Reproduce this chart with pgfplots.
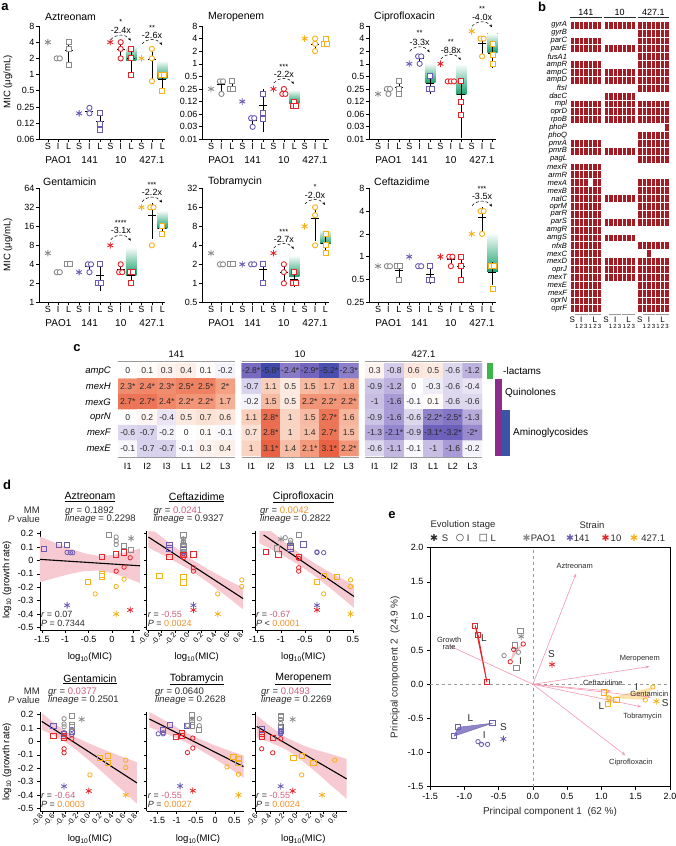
\documentclass[border=0pt]{standalone}
\usepackage{fontspec}
\setmainfont{Liberation Sans}
\newfontfamily\dejavu{DejaVu Sans}
\usepackage{pgfplots}
\usepackage{pgfplotstable}
\pgfplotsset{compat=1.18}
\usetikzlibrary{arrows.meta}
\newcommand{\fs}[1]{\fontsize{#1}{#1}\selectfont}
\definecolor{cg}{HTML}{8C8C8C}
\definecolor{cp}{HTML}{6A5CB4}
\definecolor{cr}{HTML}{E5262B}
\definecolor{co}{HTML}{F6B11B}
\definecolor{gn}{HTML}{17A06B}
\definecolor{dr}{HTML}{A51D24}
\definecolor{band}{HTML}{F7C9D1}
\definecolor{arr}{HTML}{F29AAE}
\definecolor{pk}{HTML}{D0607C}
\definecolor{po}{HTML}{F0922A}
\definecolor{lgr}{HTML}{3DB54A}
\definecolor{lpu}{HTML}{8E2C8E}
\definecolor{lbl}{HTML}{3A55A5}
\definecolor{tx}{HTML}{2B2B2B}
\definecolor{hl}{HTML}{9A9A9A}
\pgfdeclareplotmark{blk}{\pgfpathrectangle{\pgfqpoint{-15.855pt}{-3.94pt}}{\pgfqpoint{31.71pt}{7.88pt}}\pgfusepathqfill}
\pgfdeclareplotmark{cell}{\pgfpathrectangle{\pgfqpoint{-2.265pt}{-3.94pt}}{\pgfqpoint{4.53pt}{7.88pt}}\pgfusepathqfill}
\pgfplotsset{
  styMIC/.style={scale only axis, width=126.4pt,
    xmin=-0.85, xmax=11.3, axis x line*=bottom, axis y line*=left,
    xtick={0,...,11}, xticklabels={S,I,L,S,I,L,S,I,L,S,I,L},
    tick align=outside, major tick length=3pt, minor tick length=0pt,
    tick style={black,line width=0.5pt}, axis line style={black,line width=0.5pt},
    tick label style={font=\fs{9}}, xticklabel style={inner sep=1.2pt},
    yticklabel style={inner sep=1.5pt}, clip=false},
  styGR/.style={scale only axis, height=99pt, ymin=-0.52, ymax=0.22,
    axis x line*=bottom, axis y line*=left, axis line style={black,line width=0.5pt},
    tick align=outside, major tick length=3pt, minor tick length=0pt, tick style={black,line width=0.5pt},
    ytick={-0.5,-0.4,-0.3,-0.2,-0.1,0,0.1,0.2}, yticklabels={},
    tick label style={font=\fs{9}}, clip=false},
  styGRy/.style={yticklabels={-0.5,-0.4,-0.3,-0.2,-0.1,0,0.1,0.2}},
  styGRr/.style={xticklabel style={rotate=50, anchor=east, font=\fs{7.5}, inner sep=0.6pt}},
}
% panel a markers
\newcommand{\mS}[2]{\addplot[only marks, mark=asterisk, mark size=3.3pt, color=#1, mark options={line width=0.9pt}] coordinates {#2};}
\newcommand{\mI}[2]{\addplot[only marks, mark=*, mark size=2.6pt, mark options={draw=#1, fill=white, line width=0.9pt}] coordinates {#2};}
\newcommand{\mL}[2]{\addplot[only marks, mark=square*, mark size=2.5pt, mark options={draw=#1, fill=white, line width=0.9pt}] coordinates {#2};}
\newcommand{\eb}[4]{\addplot[black, line width=0.6pt] coordinates {(#1,#2) (#1,#4)};\addplot[black, only marks, mark=-, mark size=4pt, mark options={line width=0.6pt}] coordinates {(#1,#3)};}
\newcommand{\gb}[4]{\fill[top color=white, bottom color=gn] (axis cs:#1,#3) rectangle (axis cs:#2,#4);}
% panel d/e markers
\newcommand{\dS}[2]{\addplot[only marks, mark=asterisk, mark size=3.3pt, color=#1, mark options={line width=0.8pt}] coordinates {#2};}
\newcommand{\dI}[2]{\addplot[only marks, mark=o, mark size=2.2pt, color=#1, mark options={line width=0.8pt}] coordinates {#2};}
\newcommand{\dL}[2]{\addplot[only marks, mark=square, mark size=2.6pt, color=#1, mark options={line width=0.9pt}] coordinates {#2};}
\newcommand{\ann}[5]{%
  \node[font=\fs{7.5}] at (#1,#2) {#3};
  \node[font=\fs{9}] at (#1,#4) {#5};
  \draw[densely dashed, line width=0.5pt, -{Stealth[length=3pt,width=2.5pt]}] ({#1-10},{#4+9}) .. controls ({#1-5},{#4+3}) and ({#1+5},{#4+3}) .. ({#1+10},{#4+10});}
\newcommand{\rp}[3]{%
  \node[anchor=west, font=\fs{9}, text=tx, inner sep=0pt] at (rel axis cs:0.01,0.162) {\textit{r} = \textcolor{#1}{#2}};
  \node[anchor=west, font=\fs{9}, text=tx, inner sep=0pt] at (rel axis cs:0.01,0.07) {\textit{P} #3};}

% heatmap tables
\pgfplotstableread{
x y v lab
127.75 370.75 0 0
147.25 370.75 0.1 0.1
166.75 370.75 0.3 0.3
186.25 370.75 0.4 0.4
205.75 370.75 0.1 0.1
225.25 370.75 -0.2 -0.2
127.75 386.25 2.3 2.3*
147.25 386.25 2.4 2.4*
166.75 386.25 2.3 2.3*
186.25 386.25 2.5 2.5*
205.75 386.25 2.5 2.5*
225.25 386.25 2 2*
127.75 401.75 2.7 2.7*
147.25 401.75 2.7 2.7*
166.75 401.75 2.4 2.4*
186.25 401.75 2.2 2.2*
205.75 401.75 2.2 2.2*
225.25 401.75 1.7 1.7
127.75 417.25 0 0
147.25 417.25 0.2 0.2
166.75 417.25 -0.4 -0.4
186.25 417.25 0.5 0.5
205.75 417.25 0.7 0.7
225.25 417.25 0.6 0.6
127.75 432.75 -0.6 -0.6
147.25 432.75 -0.7 -0.7
166.75 432.75 -0.2 -0.2
186.25 432.75 0 0
205.75 432.75 0.1 0.1
225.25 432.75 -0.1 -0.1
127.75 448.25 -0.1 -0.1
147.25 448.25 -0.7 -0.7
166.75 448.25 -0.7 -0.7
186.25 448.25 -0.1 -0.1
205.75 448.25 0.3 0.3
225.25 448.25 0.4 0.4
}\tA
\pgfplotstableread{
x y v lab
251.25 370.75 -2.8 -2.8*
270.75 370.75 -5.8 -5.8*
290.25 370.75 -2.4 -2.4*
309.75 370.75 -2.9 -2.9*
329.25 370.75 -5.2 -5.2*
348.75 370.75 -2.3 -2.3*
251.25 386.25 -0.7 -0.7
270.75 386.25 1.1 1.1
290.25 386.25 0.5 0.5
309.75 386.25 1.5 1.5
329.25 386.25 1.7 1.7
348.75 386.25 1.8 1.8
251.25 401.75 -0.2 -0.2
270.75 401.75 1.5 1.5
290.25 401.75 0.5 0.5
309.75 401.75 2.2 2.2*
329.25 401.75 2.2 2.2*
348.75 401.75 2.2 2.2*
251.25 417.25 1.1 1.1
270.75 417.25 2.8 2.8*
290.25 417.25 1 1
309.75 417.25 1.5 1.5
329.25 417.25 2.7 2.7*
348.75 417.25 1.6 1.6
251.25 432.75 0.7 0.7
270.75 432.75 2.8 2.8*
290.25 432.75 1 1
309.75 432.75 1.4 1.4
329.25 432.75 2.7 2.7*
348.75 432.75 1.5 1.5
251.25 448.25 1 1
270.75 448.25 3.1 3.1*
290.25 448.25 1.4 1.4
309.75 448.25 2.1 2.1*
329.25 448.25 3.1 3.1*
348.75 448.25 2.2 2.2*
}\tB
\pgfplotstableread{
x y v lab
374.75 370.75 0.3 0.3
394.25 370.75 -0.8 -0.8
413.75 370.75 0.6 0.6
433.25 370.75 0.5 0.5
452.75 370.75 -0.6 -0.6
472.25 370.75 -1.2 -1.2
374.75 386.25 -0.9 -0.9
394.25 386.25 -1.2 -1.2
413.75 386.25 0 0
433.25 386.25 -0.3 -0.3
452.75 386.25 -0.6 -0.6
472.25 386.25 -0.4 -0.4
374.75 401.75 -1 -1
394.25 401.75 -1.6 -1.6
413.75 401.75 -0.1 -0.1
433.25 401.75 0.1 0.1
452.75 401.75 -0.6 -0.6
472.25 401.75 -0.6 -0.6
374.75 417.25 -0.9 -0.9
394.25 417.25 -1.6 -1.6
413.75 417.25 -0.6 -0.6
433.25 417.25 -2.2 -2.2*
452.75 417.25 -2.5 -2.5*
472.25 417.25 -1.3 -1.3
374.75 432.75 -1.3 -1.3
394.25 432.75 -2.1 -2.1*
413.75 432.75 -0.9 -0.9
433.25 432.75 -3.1 -3.1*
452.75 432.75 -3.2 -3.2*
472.25 432.75 -2 -2*
374.75 448.25 -0.6 -0.6
394.25 448.25 -1.1 -1.1
413.75 448.25 -0.1 -0.1
433.25 448.25 -1 -1
452.75 448.25 -1.6 -1.6
472.25 448.25 -0.2 -0.2
}\tC

\begin{document}
\begin{tikzpicture}
\useasboundingbox (0pt,0pt) rectangle (676pt,-846pt);

% ================= PANEL A =================
% Aztreonam
\begin{axis}[ymode=log, styMIC, at={(39pt,-139.3pt)}, anchor=south west, height=113.3pt, ymin=0.0625, ymax=8,
  ytick={0.0625,0.125,0.25,0.5,1,2,4,8}, yticklabels={0.06,0.12,0.25,0.5,1,2,4,8}]
\gb{7.5}{8.5}{1.85}{3.5}\gb{10.5}{11.5}{0.84}{1.83}
\eb{1}{2}{2}{2}\eb{2}{1.57}{2.83}{4.09}
\eb{4}{0.18}{0.207}{0.236}\eb{5}{0.086}{0.135}{0.184}
\eb{7}{2}{3}{4}\eb{8}{1}{2}{3}
\eb{10}{0.79}{1.92}{3.05}\eb{11}{0.54}{0.83}{1.12}
\mS{cg}{(0,4)}\mI{cg}{(0.85,2)(1.15,2)}\mL{cg}{(2,4)(2,3)(2,1.5)}
\mS{cp}{(3,0.19)}\mI{cp}{(4,0.24)(4,0.19)}\mL{cp}{(5,0.19)(5,0.12)(5,0.094)}
\mS{cr}{(6,4)}\mI{cr}{(7,4)(7,3)(7,2)}\mL{cr}{(8,3)(8,2)(8,1)}
\mS{co}{(9,2)}\mI{co}{(10,3)(10,2)(10,0.75)}\mL{co}{(10.85,1)(11.15,1)(11,0.5)}
\end{axis}
% Meropenem
\begin{axis}[ymode=log, styMIC, at={(202.2pt,-139.3pt)}, anchor=south west, height=113.3pt, ymin=0.015625, ymax=8,
  ytick={0.015625,0.03125,0.0625,0.125,0.25,0.5,1,2,4,8}, yticklabels={0.01,0.03,0.06,0.12,0.25,0.5,1,2,4,8}]
\gb{7.5}{8.5}{0.115}{0.24}
\eb{1}{0.207}{0.317}{0.427}\eb{2}{0.218}{0.293}{0.368}
\eb{4}{0.033}{0.044}{0.055}\eb{5}{0.023}{0.101}{0.25}
\eb{7}{0.175}{0.21}{0.245}\eb{8}{0.089}{0.106}{0.123}
\eb{10}{2}{3}{4}\eb{11}{2.75}{3.33}{3.9}
\mS{cg}{(0,0.25)}\mI{cg}{(0.85,0.38)(1.15,0.38)(1,0.19)}\mL{cg}{(2,0.38)(1.85,0.25)(2.15,0.25)}
\mS{cp}{(3,0.125)}\mI{cp}{(3.85,0.05)(4.15,0.05)(4,0.031)}\mL{cp}{(5,0.19)(5,0.066)(5,0.047)}
\mS{cr}{(6,0.25)}\mI{cr}{(7,0.25)(6.85,0.19)(7.15,0.19)}\mL{cr}{(8,0.125)(7.85,0.096)(8.15,0.096)}
\mS{co}{(9,4)}\mI{co}{(10,4)(10,3)(10,2)}\mL{co}{(11,4)(10.85,3)(11.15,3)}
\end{axis}
% Ciprofloxacin
\begin{axis}[ymode=log, styMIC, at={(369.2pt,-139.3pt)}, anchor=south west, height=113.3pt, ymin=0.015625, ymax=8,
  ytick={0.015625,0.03125,0.0625,0.125,0.25,0.5,1,2,4,8}, yticklabels={0.01,0.03,0.06,0.12,0.25,0.5,1,2,4,8}]
\gb{4.5}{5.5}{0.35}{1.05}\gb{7.5}{8.5}{0.18}{1.0}\gb{10.5}{11.5}{1.9}{5.4}
\eb{1}{0.195}{0.23}{0.265}\eb{2}{0.176}{0.273}{0.37}
\eb{4}{1.04}{1.33}{1.62}\eb{5}{0.19}{0.333}{0.48}
\eb{7}{0.38}{0.38}{0.38}\eb{8}{0.017}{0.187}{0.357}
\eb{10}{1.73}{3.17}{4.61}\eb{11}{0.79}{1.83}{2.87}
\mS{cg}{(0,0.19)}\mI{cg}{(0.85,0.25)(1.15,0.25)(1,0.19)}\mL{cg}{(2,0.38)(2,0.25)(2,0.19)}
\mS{cp}{(3,1)}\mI{cp}{(3.85,1.5)(4.15,1.5)(4,1)}\mL{cp}{(5,0.5)(4.85,0.25)(5.15,0.25)}
\mS{cr}{(6,1)}\mI{cr}{(6.7,0.38)(7,0.38)(7.3,0.38)}\mL{cr}{(8,0.38)(8,0.12)(8,0.06)}
\mS{co}{(9,6)}\mI{co}{(9.85,4)(10.15,4)(10,1.5)}\mL{co}{(11,3)(11,1.6)(11,1)}
\end{axis}
% Gentamicin
\begin{axis}[ymode=log, styMIC, at={(39pt,-302.3pt)}, anchor=south west, height=114pt, ymin=1, ymax=64,
  ytick={1,2,4,8,16,32,64}, yticklabels={1,2,4,8,16,32,64}]
\gb{7.5}{8.5}{2.7}{7.5}\gb{10.5}{11.5}{15}{28.6}
\eb{1}{3}{3}{3}\eb{2}{4}{4}{4}
\eb{4}{3.09}{3.67}{4.25}\eb{5}{1.52}{2.67}{3.82}
\eb{7}{2.75}{3.33}{3.91}\eb{8}{2.09}{2.67}{3.25}
\eb{10}{10.1}{24}{37.9}\eb{11}{12.4}{14.7}{17}
\mS{cg}{(0,6)}\mI{cg}{(0.85,3)(1.15,3)}\mL{cg}{(1.85,4)(2.15,4)}
\mS{cp}{(3,3)}\mI{cp}{(3.85,4)(4.15,4)(4,3)}\mL{cp}{(5,4)(4.85,2)(5.15,2)}
\mS{cr}{(6,8)}\mI{cr}{(7,4)(6.85,3)(7.15,3)}\mL{cr}{(7.85,3)(8.15,3)(8,2)}
\mS{co}{(9,32)}\mI{co}{(9.85,32)(10.15,32)(10,8)}\mL{co}{(11,16)(11,12)}
\end{axis}
% Tobramycin
\begin{axis}[ymode=log, styMIC, at={(202.2pt,-302.3pt)}, anchor=south west, height=114pt, ymin=0.5, ymax=32,
  ytick={0.5,1,2,4,8,16,32}, yticklabels={0.5,1,2,4,8,16,32}]
\gb{7.5}{8.5}{1.26}{2.78}\gb{10.5}{11.5}{4.2}{7.1}
\eb{1}{2}{2}{2}\eb{2}{2}{2}{2}
\eb{4}{2}{2}{2}\eb{5}{1.09}{1.67}{2.25}
\eb{7}{1}{1.5}{2}\eb{8}{0.88}{1.17}{1.46}
\eb{10}{4.6}{10.67}{16.8}\eb{11}{2.8}{4.33}{5.86}
\mS{cg}{(0,3)}\mI{cg}{(0.85,2)(1.15,2)}\mL{cg}{(1.85,2)(2.15,2)}
\mS{cp}{(3,2)}\mI{cp}{(3.85,2)(4.15,2)}\mL{cp}{(5,2)(5,1)}
\mS{cr}{(6,3)}\mI{cr}{(7,2)(7,1.5)(7,1)}\mL{cr}{(8,1.5)(7.85,1)(8.15,1)}
\mS{co}{(9,8)}\mI{co}{(10,16)(10,12)(10,4)}\mL{co}{(11,6)(11,4)(11,3)}
\end{axis}
% Ceftazidime
\begin{axis}[ymode=log, styMIC, at={(369.2pt,-302.3pt)}, anchor=south west, height=114pt, ymin=0.25, ymax=8,
  ytick={0.25,0.5,1,2,4,8}, yticklabels={0.25,0.5,1,2,4,8}]
\gb{10.5}{11.5}{0.63}{2.08}
\eb{1}{0.75}{0.75}{0.75}\eb{2}{0.52}{0.667}{0.81}
\eb{4}{0.75}{0.75}{0.75}\eb{5}{0.44}{0.583}{0.73}
\eb{7}{0.77}{0.917}{1.06}\eb{8}{0.5}{0.75}{1}
\eb{10}{2.18}{3.33}{4.48}\eb{11}{0.42}{0.627}{0.84}
\mS{cg}{(0,0.75)}\mI{cg}{(0.85,0.75)(1.15,0.75)}\mL{cg}{(1.85,0.75)(2.15,0.75)(2,0.5)}
\mS{cp}{(3,1)}\mI{cp}{(3.85,0.75)(4.15,0.75)}\mL{cp}{(5,0.75)(4.85,0.5)(5.15,0.5)}
\mS{cr}{(6,1)}\mI{cr}{(6.85,1)(7.15,1)(7,0.75)}\mL{cr}{(8,1)(8,0.75)(8,0.5)}
\mS{co}{(9,2)}\mI{co}{(9.85,4)(10.15,4)(10,2)}\mL{co}{(10.85,0.75)(11.15,0.75)(11,0.38)}
\end{axis}

% ================= PANEL B =================
\begin{axis}[scale only axis, width=103pt, height=291.56pt, at={(568pt,-21.06pt)}, anchor=north west,
  xmin=0, xmax=103, ymin=-0.5, ymax=36.5, y dir=reverse,
  axis line style={draw=none}, major tick length=0pt, minor tick length=0pt,
  xtick=\empty, ytick={0,...,36},
  yticklabels={gyrA,gyrB,parC,parE,fusA1,ampR,ampC,ampD,ftsI,dacC,mpl,oprD,rpoB,phoP,phoQ,pmrA,pmrB,pagL,mexR,armR,mexA,mexB,nalC,oprM,parR,parS,amgR,amgS,nfxB,mexC,mexD,oprJ,mexT,mexE,mexF,oprN,oprF},
  yticklabel style={font=\fs{7.6}\itshape, inner sep=0.8pt}, clip=false]
\addplot[only marks, mark=blk, color=dr] coordinates {(17.855,0)(17.855,2)(17.855,3)(17.855,5)(17.855,6)(17.855,7)(17.855,10)(17.855,11)(17.855,12)(17.855,15)(17.855,16)(17.855,18)(17.855,19)(17.855,20)(17.855,21)(17.855,22)(17.855,23)(17.855,24)(17.855,25)(17.855,26)(17.855,27)(17.855,28)(17.855,29)(17.855,30)(17.855,31)(17.855,32)(17.855,33)(17.855,34)(17.855,35)(17.855,36)};
\addplot[only marks, mark=blk, color=dr] coordinates {(51.655,0)(51.655,3)(51.655,6)(51.655,7)(51.655,9)(51.655,10)(51.655,11)(51.655,12)(51.655,16)(51.655,22)(51.655,25)(51.655,27)(51.655,30)(51.655,31)(51.655,32)};
\addplot[only marks, mark=blk, color=dr] coordinates {(85.455,0)(85.455,1)(85.455,2)(85.455,3)(85.455,4)(85.455,5)(85.455,6)(85.455,7)(85.455,8)(85.455,10)(85.455,11)(85.455,12)(85.455,14)(85.455,15)(85.455,16)(85.455,17)(85.455,20)(85.455,21)(85.455,22)(85.455,23)(85.455,24)(85.455,25)(85.455,28)(85.455,30)(85.455,31)(85.455,32)(85.455,33)(85.455,34)(85.455,35)(85.455,36)};
\addplot[only marks, mark=cell, color=dr] coordinates {(99.05,13)(80.93,29)};
\addplot[only marks, mark=cell, color=white] coordinates {(22.385,20)};
\end{axis}

% ================= PANEL C =================
\begin{axis}[scale only axis, hide axis, width=364pt, height=93pt, at={(118pt,-363pt)}, anchor=north west,
  xmin=118, xmax=482, ymin=363, ymax=456, y dir=reverse,
  colormap={hm}{rgb255(0cm)=(60,72,170); rgb255(3cm)=(112,98,188); rgb255(4.5cm)=(172,158,214); rgb255(6cm)=(255,255,255); rgb255(7cm)=(250,212,194); rgb255(8cm)=(244,160,130); rgb255(9cm)=(233,98,68)},
  point meta min=-6, point meta max=3]
\addplot[matrix plot*, mesh/cols=6, point meta=explicit] table[x=x,y=y,meta=v] {\tA};
\addplot[matrix plot*, mesh/cols=6, point meta=explicit] table[x=x,y=y,meta=v] {\tB};
\addplot[matrix plot*, mesh/cols=6, point meta=explicit] table[x=x,y=y,meta=v] {\tC};
\addplot[draw=none, nodes near coords, point meta=explicit symbolic, every node near coord/.style={anchor=center, font=\fs{8.6}, text=tx, inner sep=0pt}] table[x=x,y=y,meta=lab] {\tA};
\addplot[draw=none, nodes near coords, point meta=explicit symbolic, every node near coord/.style={anchor=center, font=\fs{8.6}, text=tx, inner sep=0pt}] table[x=x,y=y,meta=lab] {\tB};
\addplot[draw=none, nodes near coords, point meta=explicit symbolic, every node near coord/.style={anchor=center, font=\fs{8.6}, text=tx, inner sep=0pt}] table[x=x,y=y,meta=lab] {\tC};
\end{axis}

% ================= PANEL D =================
% Aztreonam
\begin{axis}[styGR, styGRy, at={(40pt,-630pt)}, anchor=south west, width=100pt, xmin=-1.54, xmax=0.6,
  xtick={-1.5,-1,-0.5,0,0.45}, xticklabels={-1.5,-1,-0.5,0,1}]
\addplot[fill=band, draw=none] coordinates {(-1.54,0.178)(-1.2,0.129)(-0.9,0.089)(-0.6,0.054)(-0.3,0.035)(0,0.040)(0.3,0.062)(0.6,0.089)(0.6,-0.169)(0.3,-0.128)(0,-0.094)(-0.3,-0.075)(-0.6,-0.080)(-0.9,-0.101)(-1.2,-0.129)(-1.54,-0.162)} --cycle;
\addplot[black, line width=1.1pt] coordinates {(-1.54,0.008)(0.6,-0.04)};
\dL{cp}{(-1.46,0.088)(-1.14,0.115)(-0.96,0.115)}\dI{cp}{(-0.96,0.06)(-0.89,0.058)(-0.84,0.058)}\dS{cp}{(-0.96,-0.335)}
\dL{cg}{(-0.07,0.19)(0.25,0.11)(0.41,0.08)}\dI{cg}{(0.09,0.175)(0.09,0.145)(0.09,0.12)}\dS{cg}{(0.41,0.165)}
\dL{cr}{(-0.22,0.025)(0.09,0.045)(0.26,0.06)}\dI{cr}{(0.39,0.02)(0.26,-0.05)(0.09,-0.08)}\dS{cr}{(0.39,-0.37)}
\dL{co}{(-0.52,-0.16)(-0.22,-0.12)(-0.22,-0.105)}\dI{co}{(-0.36,-0.25)(0.09,-0.195)(0.26,-0.14)}\dS{co}{(0.09,-0.40)}
\rp{tx}{0.07}{= 0.7344}
\end{axis}
% Ceftazidime
\begin{axis}[styGR, styGRr, at={(146.7pt,-630pt)}, anchor=south west, width=96.4pt, xmin=-0.625, xmax=0.82,
  xtick={-0.6,-0.4,-0.2,0,0.2,0.4,0.6,0.8}, xticklabels={-0.6,-0.4,-0.2,0.0,0.2,0.4,0.6,0.8}]
\addplot[fill=band, draw=none] coordinates {(-0.6,0.22)(-0.5,0.215)(-0.3,0.136)(0,0.027)(0.1,-0.007)(0.3,-0.068)(0.6,-0.150)(0.82,-0.204)(0.82,-0.366)(0.6,-0.278)(0.3,-0.166)(0.1,-0.097)(0,-0.064)(-0.3,0.020)(-0.6,0.096)} --cycle;
\addplot[black, line width=1.1pt] coordinates {(-0.6,0.175)(0.82,-0.285)};
\dL{cp}{(-0.285,0.115)(-0.285,0.09)(-0.075,0.075)}\dI{cp}{(-0.075,0.065)(-0.075,0.05)(-0.075,0.055)}\dS{cp}{(0.075,-0.335)}
\dL{cg}{(-0.075,0.19)(-0.075,0.105)(-0.075,0.085)}\dI{cg}{(-0.075,0.16)(-0.075,0.135)(-0.075,0.12)}\dS{cg}{(-0.075,0.155)}
\dL{cr}{(-0.285,0.025)(0.075,0.045)(-0.075,0.04)}\dI{cr}{(-0.075,0.02)(0.075,-0.055)(0.075,-0.08)}\dS{cr}{(0.075,-0.37)}
\dL{co}{(-0.435,-0.115)(-0.075,-0.125)(-0.075,-0.165)}\dI{co}{(0.44,-0.25)(0.8,-0.145)(0.8,-0.195)}\dS{co}{(0.44,-0.40)}
\rp{pk}{-0.55}{= \textcolor{po}{0.0024}}
\end{axis}
% Ciprofloxacin
\begin{axis}[styGR, at={(255pt,-630pt)}, anchor=south west, width=99.4pt, xmin=-1.54, xmax=0.53,
  xtick={-1.5,-1,-0.5,0,0.5}, xticklabels={-1.5,-1,-0.5,0,0.5}]
\addplot[fill=band, draw=none] coordinates {(-1.45,0.22)(-1.2,0.218)(-0.9,0.131)(-0.6,0.05)(-0.3,-0.021)(0,-0.085)(0.3,-0.142)(0.52,-0.183)(0.52,-0.355)(0.3,-0.288)(0,-0.199)(-0.3,-0.115)(-0.6,-0.040)(-0.9,0.025)(-1.2,0.084)(-1.45,0.130)} --cycle;
\addplot[black, line width=1.1pt] coordinates {(-1.36,0.19)(0.52,-0.269)};
\dL{cr}{(-1.31,0.063)(-1.05,0.045)(-0.63,0.025)}\dI{cr}{(-0.63,-0.055)(-0.63,-0.08)(-0.63,0.015)}\dS{cr}{(-0.25,-0.37)}
\dL{cg}{(-0.63,0.19)(-1.08,0.09)(-0.8,0.10)}\dI{cg}{(-0.91,0.17)(-0.80,0.15)(-0.80,0.13)}\dS{cg}{(-1.0,0.16)}
\dL{cp}{(-0.8,0.105)(-0.53,0.12)(-0.8,0.09)}\dI{cp}{(-0.25,0.063)(-0.11,0.058)(-0.25,0.06)}\dS{cp}{(-0.25,-0.335)}
\dL{co}{(-0.25,-0.16)(-0.11,-0.115)(0.17,-0.125)}\dI{co}{(-0.11,-0.25)(0.45,-0.145)(0.45,-0.195)}\dS{co}{(0.45,-0.40)}
\rp{pk}{-0.67}{< \textcolor{po}{0.0001}}
\end{axis}
% Gentamicin
\begin{axis}[styGR, styGRy, styGRr, at={(40pt,-811pt)}, anchor=south west, width=98.7pt, xmin=-0.83, xmax=0.85,
  xtick={-0.8,-0.6,-0.4,-0.2,0,0.2,0.4,0.6,0.8}, xticklabels={-0.8,-0.6,-0.4,-0.2,0.0,0.2,0.4,0.6,0.8}]
\addplot[fill=band, draw=none] coordinates {(-0.8,0.213)(-0.6,0.140)(-0.4,0.076)(-0.2,0.027)(0,-0.014)(0.2,-0.051)(0.4,-0.086)(0.6,-0.120)(0.82,-0.155)(0.82,-0.465)(0.6,-0.376)(0.4,-0.296)(0.2,-0.217)(0,-0.140)(-0.2,-0.067)(-0.4,-0.004)(-0.6,0.046)(-0.8,0.087)} --cycle;
\addplot[black, line width=1.1pt] coordinates {(-0.8,0.15)(0.82,-0.31)};
\dL{cp}{(-0.60,0.115)(-0.42,0.057)(-0.29,0.07)}\dI{cp}{(-0.42,0.065)(-0.29,0.09)(-0.29,0.05)}\dS{cp}{(-0.42,-0.335)}
\dL{cg}{(-0.29,0.19)(-0.29,0.11)(-0.29,0.12)}\dI{cg}{(-0.42,0.17)(-0.42,0.13)(-0.42,0.11)}\dS{cg}{(-0.12,0.165)}
\dL{cr}{(-0.60,0.042)(-0.42,0.025)(-0.42,0.04)}\dI{cr}{(-0.29,0.02)(-0.42,-0.055)(-0.42,-0.085)}\dS{cr}{(0.0,-0.37)}
\dL{co}{(0.19,-0.125)(0.32,-0.11)(0.32,-0.16)}\dI{co}{(0.02,-0.25)(0.63,-0.14)(0.63,-0.195)}\dS{co}{(0.63,-0.40)}
\rp{pk}{-0.64}{= \textcolor{po}{0.0003}}
\end{axis}
% Tobramycin
\begin{axis}[styGR, at={(146.7pt,-811pt)}, anchor=south west, width=97.2pt, xmin=-1.78, xmax=0.75,
  xtick={-1.5,-1,-0.5,0,0.5}, xticklabels={-1.5,-1,-0.5,0,0.5}]
\addplot[fill=band, draw=none] coordinates {(-1.71,0.22)(-1.3,0.155)(-0.9,0.088)(-0.5,0.030)(-0.1,-0.019)(0.3,-0.062)(0.74,-0.105)(0.74,-0.271)(0.3,-0.186)(-0.1,-0.113)(-0.5,-0.046)(-0.9,0.012)(-1.3,0.061)(-1.71,0.105)} --cycle;
\addplot[black, line width=1.1pt] coordinates {(-1.71,0.168)(0.74,-0.188)};
\dL{cp}{(-1.35,0.087)(-1.17,0.125)(-0.72,0.117)}\dI{cp}{(-1.48,0.057)(-1.35,0.057)(-1.35,0.065)}\dS{cp}{(-0.91,-0.333)}
\dL{cg}{(-0.61,0.2)(-0.61,0.15)(-0.41,0.087)(-0.6,0.12)}\dI{cg}{(-0.41,0.17)(-0.41,0.117)(-0.72,0.12)}\dS{cg}{(-0.6,0.165)}
\dL{cr}{(-1.02,0.033)(-0.87,0.063)(-0.87,0.04)}\dI{cr}{(-0.58,0.025)(-0.58,-0.05)(-0.72,-0.083)}\dS{cr}{(-0.58,-0.368)}
\dL{co}{(0.48,-0.113)(0.61,-0.13)(0.61,-0.16)}\dI{co}{(0.31,-0.19)(0.61,-0.245)}\dS{co}{(0.61,-0.40)}
\rp{pk}{-0.55}{= \textcolor{po}{0.0027}}
\end{axis}
% Meropenem
\begin{axis}[styGR, styGRr, at={(255pt,-811pt)}, anchor=south west, width=91.7pt, xmin=-0.625, xmax=0.75,
  xtick={-0.6,-0.4,-0.2,0,0.2,0.4,0.6}, xticklabels={-0.6,-0.4,-0.2,0.0,0.2,0.4,0.6}]
\addplot[fill=band, draw=none] coordinates {(-0.6,0.196)(-0.4,0.114)(-0.15,0.027)(0.1,-0.031)(0.3,-0.065)(0.5,-0.092)(0.75,-0.131)(0.75,-0.429)(0.5,-0.322)(0.3,-0.233)(0.1,-0.151)(-0.15,-0.063)(-0.4,-0.006)(-0.6,0.028)} --cycle;
\addplot[black, line width=1.1pt] coordinates {(-0.6,0.112)(0.75,-0.28)};
\dL{cp}{(-0.525,0.09)(-0.24,0.11)(-0.24,0.08)}\dI{cp}{(-0.24,0.055)(-0.24,0.06)(-0.24,0.07)}\dS{cp}{(-0.24,-0.335)}
\dL{cg}{(-0.24,0.19)(-0.24,0.18)}\dI{cg}{(-0.24,0.165)(-0.24,0.135)(-0.24,0.11)}\dS{cg}{(-0.06,0.165)}
\dL{cr}{(-0.525,0.055)(-0.525,0.035)(-0.36,0.025)}\dI{cr}{(-0.525,-0.055)(-0.36,-0.085)(-0.24,0.02)}\dS{cr}{(-0.06,-0.37)}
\dL{co}{(-0.05,-0.125)(0.075,-0.11)(0.25,-0.16)}\dI{co}{(0.075,-0.25)(0.57,-0.14)}\dS{co}{(0.38,-0.40)}
\rp{pk}{-0.55}{= \textcolor{po}{0.0024}}
\end{axis}

% ================= PANEL E =================
\begin{axis}[scale only axis, at={(430pt,-786.7pt)}, anchor=south west, width=240pt, height=239pt,
  xmin=-1.5, xmax=2, ymin=-1.5, ymax=2,
  xtick={-1.5,-1,-0.5,0,0.5,1,1.5,2}, ytick={-1.5,-1,-0.5,0,0.5,1,1.5,2},
  xticklabels={-1.5,-1.0,-0.5,0.0,0.5,1.0,1.5,2.0}, yticklabels={-1.5,-1.0,-0.5,0.0,0.5,1.0,1.5,2.0},
  tick align=outside, major tick length=3pt, xtick pos=left, ytick pos=left,
  tick label style={font=\fs{9}}, axis line style={line width=0.5pt}, tick style={black,line width=0.5pt}, clip=false]
\addplot[hl, dashed, line width=0.5pt] coordinates {(0,-1.5)(0,2)};
\addplot[hl, dashed, line width=0.5pt] coordinates {(-1.5,0)(2,0)};
\addplot[fill=cr, fill opacity=0.55, draw=cr, line width=1pt] coordinates {(-0.84,0.86)(-0.80,0.72)(-0.67,0.03)} --cycle;
\addplot[fill=cr!45, fill opacity=0.6, draw=none] coordinates {(-0.28,0.51)(-0.14,0.59)(-0.33,0.33)} --cycle;
\addplot[fill=cp, fill opacity=0.75, draw=cp] coordinates {(-1.09,-0.63)(-1.15,-0.76)(-0.59,-0.57)} --cycle;
\addplot[fill=cp!50, fill opacity=0.6, draw=none] coordinates {(-0.80,-0.84)(-0.75,-0.88)(-0.66,-0.88)} --cycle;
\addplot[fill=co!60, fill opacity=0.6, draw=none] coordinates {(1.04,-0.12)(1.22,-0.23)(1.09,-0.29)} --cycle;
\addplot[fill=co!60, fill opacity=0.6, draw=none] coordinates {(1.75,-0.04)(1.64,-0.23)(1.11,-0.20)} --cycle;
\addplot[arr, line width=0.6pt, -{Stealth[length=4pt,width=3pt]}] coordinates {(0,0)(0.63,1.62)};
\addplot[arr, line width=0.6pt, -{Stealth[length=4pt,width=3pt]}] coordinates {(0,0)(1.70,0.26)};
\addplot[arr, line width=0.6pt, -{Stealth[length=4pt,width=3pt]}] coordinates {(0,0)(1.14,-0.10)};
\addplot[arr, line width=0.6pt, -{Stealth[length=4pt,width=3pt]}] coordinates {(0,0)(1.72,-0.19)};
\addplot[arr, line width=0.6pt, -{Stealth[length=4pt,width=3pt]}] coordinates {(0,0)(1.58,-0.33)};
\addplot[arr, line width=0.6pt, -{Stealth[length=4pt,width=3pt]}] coordinates {(0,0)(1.35,-1.04)};
\addplot[arr, line width=0.6pt, -{Stealth[length=4pt,width=3pt]}] coordinates {(0,0)(-1.21,0.56)};
\dL{cg}{(-0.18,0.78)(-0.26,0.57)(-0.24,0.24)}\dI{cg}{(-0.42,0.42)(-0.21,0.47)}\dS{cg}{(-0.17,0.70)}
\dL{cr}{(-0.84,0.86)(-0.80,0.72)(-0.67,0.03)}\dI{cr}{(-0.28,0.51)(-0.14,0.59)(-0.33,0.33)}\dS{cr}{(0.28,0.29)}
\dL{cp}{(-1.09,-0.63)(-1.15,-0.76)(-0.59,-0.57)}\dI{cp}{(-0.80,-0.84)(-0.75,-0.88)(-0.66,-0.88)}\dS{cp}{(-0.43,-0.80)}
\dL{co}{(1.04,-0.12)(1.22,-0.23)(1.09,-0.29)}\dI{co}{(1.75,-0.04)(1.64,-0.23)(1.11,-0.20)}\dS{co}{(1.80,-0.25)}
\begin{scope}[every node/.style={font=\fs{7.5}, text=tx, inner sep=0.5pt}]
\node at (axis cs:0.61,1.73) {Aztreonam};
\node at (axis cs:1.56,0.38) {Meropenem};
\node at (axis cs:1.02,0.02) {Ceftazidime};
\node at (axis cs:1.70,-0.14) {Gentamicin};
\node at (axis cs:1.60,-0.47) {Tobramycin};
\node at (axis cs:1.43,-1.14) {Ciprofloxacin};
\node[align=center] at (axis cs:-1.22,0.60) {Growth\\rate};
\end{scope}
\begin{scope}[every node/.style={font=\fs{10}, text=tx, inner sep=0pt}]
\node at (axis cs:-0.715,0.68) {L};
\node at (axis cs:-0.18,0.34) {I};
\node at (axis cs:0.27,0.44) {S};
\node at (axis cs:-0.91,-0.49) {L};
\node at (axis cs:-0.71,-0.75) {I};
\node at (axis cs:-0.43,-0.63) {S};
\node at (axis cs:1.51,-0.04) {I};
\node at (axis cs:1.00,-0.32) {L};
\node at (axis cs:1.93,-0.28) {S};
\end{scope}
\end{axis}

% ================= ABSOLUTE TEXT =================
\begin{scope}[x=1pt, y=-1pt]
% panel b white cell grid
\foreach \g in {570,603.8,637.6}{
 \foreach \k in {0,...,7}{\draw[white, line width=0.6pt] ({\g+4.53*\k},21.06) -- ({\g+4.53*\k},312.62);}
 \foreach \j in {0,...,37}{\draw[white, line width=0.6pt] (\g,{21.06+7.88*\j}) -- ({\g+31.71},{21.06+7.88*\j});}
}
\node[font=\fs{13}\bfseries] at (5,7) {a};
\node[font=\fs{13}\bfseries] at (542,7) {b};
\node[font=\fs{13}\bfseries] at (77,348) {c};
\node[font=\fs{13}\bfseries] at (7,485) {d};
\node[font=\fs{13}\bfseries] at (392,515) {e};
\begin{scope}[every node/.style={font=\fs{10.5}, anchor=west, inner sep=0pt}]
\node at (45,17) {Aztreonam};
\node at (208,17) {Meropenem};
\node at (374,17) {Ciprofloxacin};
\node at (43,181.7) {Gentamicin};
\node at (208,181.7) {Tobramycin};
\node at (374,181.7) {Ceftazidime};
\end{scope}
\node[rotate=90, font=\fs{9.5}] at (8,82) {MIC (μg/mL)};
\node[rotate=90, font=\fs{9.5}] at (8,245) {MIC (μg/mL)};
\begin{scope}[every node/.style={font=\fs{10}, inner sep=0pt}]
\foreach \dx/\yy in {0/160,163/160,330/160,0/323,163/323,330/323}{
 \node at ({58.4+\dx},\yy) {PAO1};
 \node at ({89.6+\dx},\yy) {141};
 \node at ({120.8+\dx},\yy) {10};
 \node at ({152+\dx},\yy) {427.1};
}
\end{scope}
\ann{120.8}{22}{*}{30.7}{-2.4x}
\ann{152}{28.3}{**}{35}{-2.6x}
\ann{283.8}{66.7}{***}{74}{-2.2x}
\ann{419.6}{33.3}{**}{42.3}{-3.3x}
\ann{450.8}{41.7}{**}{50}{-8.8x}
\ann{482}{9.3}{**}{17.3}{-4.0x}
\ann{120.8}{223.3}{****}{230.7}{-3.1x}
\ann{152}{185}{***}{192.7}{-2.2x}
\ann{283.8}{231.7}{***}{239}{-2.7x}
\ann{315}{186.7}{*}{195}{-2.0x}
\ann{482}{189.3}{***}{196.7}{-3.5x}
\begin{scope}[every node/.style={font=\fs{9}, inner sep=0pt}]
\node at (585.86,12) {141};
\node at (619.66,12) {10};
\node at (653.46,12) {427.1};
\end{scope}
\foreach \g in {570,603.8,637.6}{
 \draw[tx, line width=0.6pt] (\g,17.5) -- ({\g+31.71},17.5);
 \draw[hl, line width=0.6pt] ({\g+5},314.5) -- ({\g+17.6},314.5);
 \draw[hl, line width=0.6pt] ({\g+18.6},314.5) -- ({\g+31.2},314.5);
 \node[font=\fs{8}, inner sep=0pt] at ({\g+2.265},319.5) {S};
 \node[font=\fs{8}, inner sep=0pt] at ({\g+11.325},319.5) {I};
 \node[font=\fs{8}, inner sep=0pt] at ({\g+24.915},319.5) {L};
 \node[font=\fs{6}, inner sep=0pt] at ({\g+6.795},326.5) {1};
 \node[font=\fs{6}, inner sep=0pt] at ({\g+11.325},326.5) {2};
 \node[font=\fs{6}, inner sep=0pt] at ({\g+15.855},326.5) {3};
 \node[font=\fs{6}, inner sep=0pt] at ({\g+20.385},326.5) {1};
 \node[font=\fs{6}, inner sep=0pt] at ({\g+24.915},326.5) {2};
 \node[font=\fs{6}, inner sep=0pt] at ({\g+29.445},326.5) {3};
}
\begin{scope}[every node/.style={font=\fs{9.5}, inner sep=0pt}]
\node at (176.5,354) {141};
\node at (300,354) {10};
\node at (423.5,354) {427.1};
\end{scope}
\foreach \a/\b in {118/235,241.5/358.5,365/482}{
 \draw[hl, line width=1pt] (\a,361) -- (\b,361);
 \draw[hl, line width=0.8pt] (\a,457.5) -- (\b,457.5);
}
\begin{scope}[every node/.style={font=\fs{9.5}\itshape, anchor=east, inner sep=0pt}]
\node at (111,370.75) {ampC};
\node at (111,386.25) {mexH};
\node at (111,401.75) {mexG};
\node at (111,417.25) {oprN};
\node at (111,432.75) {mexF};
\node at (111,448.25) {mexE};
\end{scope}
\foreach \s in {118,241.5,365}{
 \foreach \k/\lab in {0/I1,1/I2,2/I3,3/L1,4/L2,5/L3}{
  \node[font=\fs{9}, inner sep=0pt] at ({\s+19.5*\k+9.75},466) {\lab};
 }
}
\fill[lgr] (486.7,363) rectangle (493.3,378.5);
\fill[lpu] (495,378.5) rectangle (501.7,456);
\fill[lbl] (501.7,409.5) rectangle (510,456);
\node[font=\fs{10}, anchor=west, inner sep=0pt] at (503,370.7) {-lactams};
\node[font=\fs{10}, anchor=west, inner sep=0pt] at (505,393.3) {Quinolones};
\node[font=\fs{10}, anchor=west, inner sep=0pt] at (513,432.7) {Aminoglycosides};
\begin{scope}[every node/.style={font=\fs{10.5}, inner sep=0pt}]
\node at (90,497.3) {\underline{Aztreonam}};
\node at (196.7,497.3) {\underline{Ceftazidime}};
\node at (303.3,497.3) {\underline{Ciprofloxacin}};
\node at (90,679.3) {\underline{Gentamicin}};
\node at (196.7,679.3) {\underline{Tobramycin}};
\node at (303.3,679.3) {\underline{Meropenem}};
\end{scope}
\begin{scope}[every node/.style={font=\fs{9.5}, text=tx, inner sep=0pt}]
\node[anchor=east] at (40,510.7) {MM};
\node[anchor=east] at (40,519.3) {\textit{P} value};
\node[anchor=east] at (40,691.7) {MM};
\node[anchor=east] at (40,700.3) {\textit{P} value};
\node[anchor=west] at (65,510.7) {\textit{gr} = 0.1892};
\node[anchor=west] at (65,519.3) {\textit{lineage} = 0.2298};
\node[anchor=west] at (153.3,510.7) {\textit{gr} = \textcolor{pk}{0.0241}};
\node[anchor=west] at (153.3,519.3) {\textit{lineage} = 0.9327};
\node[anchor=west] at (260,510.7) {\textit{gr} = \textcolor{po}{0.0042}};
\node[anchor=west] at (260,519.3) {\textit{lineage} = 0.2822};
\node[anchor=west] at (48,691.7) {\textit{gr} = \textcolor{pk}{0.0377}};
\node[anchor=west] at (48,700.3) {\textit{lineage} = 0.2501};
\node[anchor=west] at (155,691.7) {\textit{gr} = 0.0640};
\node[anchor=west] at (155,700.3) {\textit{lineage} = 0.2628};
\node[anchor=west] at (261,691.7) {\textit{gr} = \textcolor{pk}{0.0493}};
\node[anchor=west] at (261,700.3) {\textit{lineage} = 0.2269};
\end{scope}
\begin{scope}[every node/.style={font=\fs{9.5}, inner sep=0pt}]
\node at (90,657) {log\textsubscript{10}(MIC)};
\node at (196.7,657) {log\textsubscript{10}(MIC)};
\node at (303.3,657) {log\textsubscript{10}(MIC)};
\node at (90,839.5) {log\textsubscript{10}(MIC)};
\node at (198,839.5) {log\textsubscript{10}(MIC)};
\node at (303.3,839.5) {log\textsubscript{10}(MIC)};
\node[rotate=90] at (7,580) {log\textsubscript{10} (growth rate)};
\node[rotate=90] at (7,762) {log\textsubscript{10} (growth rate)};
\end{scope}
\begin{scope}[every node/.style={font=\fs{9.5}, text=tx, inner sep=0pt}]
\node at (463,525) {Evolution stage};
\node at (592,525) {Strain};
\node at (434,538) {\dejavu ✱};
\node at (445,538) {S};
\node at (460,538) {\dejavu ○};
\node at (468.3,538) {I};
\node at (483.3,538) {\dejavu □};
\node at (493.3,538) {L};
\node[text=cg] at (526.7,538) {\dejavu ✱};
\node at (543.3,538) {PAO1};
\node[text=cp] at (570,538) {\dejavu ✱};
\node at (581.7,538) {141};
\node[text=cr] at (605.7,538) {\dejavu ✱};
\node at (616,538) {10};
\node[text=co] at (634,538) {\dejavu ✱};
\node at (653.3,538) {427.1};
\node[font=\fs{10}] at (550,812) {Principal component 1\ \ (62 \%)};
\node[font=\fs{10}, rotate=90] at (395,667) {Principal component 2\ \ (24.9 \%)};
\end{scope}
\end{scope}
\end{tikzpicture}
\end{document}
